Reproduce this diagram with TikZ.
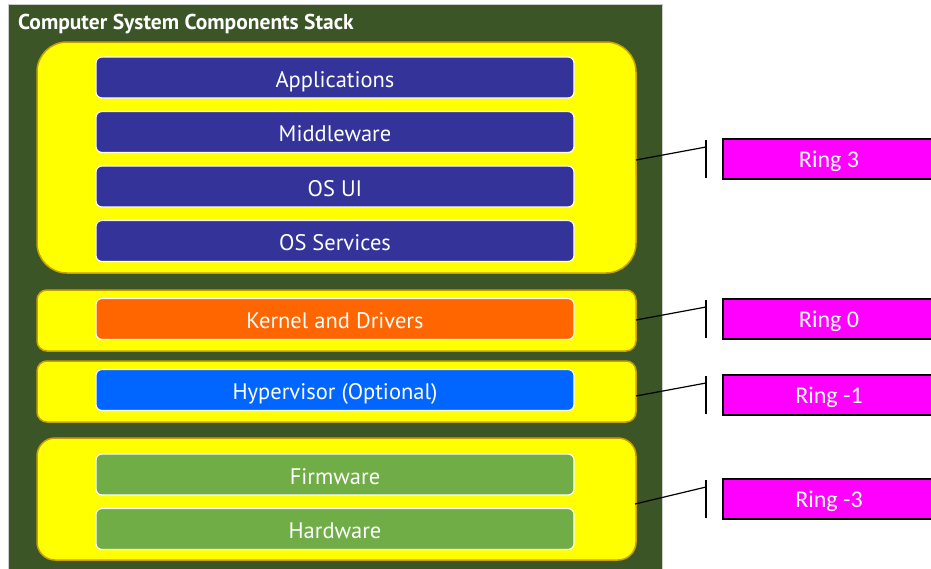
\documentclass[tikz,border=0pt]{standalone}
\usepackage{fontspec}
\newfontfamily\boxfont{PT Sans}
\newfontfamily\ringfont{Carlito}
\definecolor{stackbg}{HTML}{3B5526}
\definecolor{layerfill}{HTML}{FFFF00}
\definecolor{layeredge}{HTML}{C8A000}
\definecolor{navy}{HTML}{333399}
\definecolor{kernelc}{HTML}{FF6600}
\definecolor{hyperc}{HTML}{0066FF}
\definecolor{hwc}{HTML}{70AD47}
\definecolor{ringc}{HTML}{FF00FF}
\tikzset{
  layer/.style={draw=layeredge, line width=1.5pt, fill=layerfill,
    minimum width=599pt, inner sep=0pt},
  comp/.style={draw=white, line width=1.2pt, rounded corners=6pt,
    minimum width=478pt, minimum height=41pt, inner sep=0pt,
    text height=20pt, text depth=1pt,
    text=white, font=\boxfont\fontsize{22.5}{24}\selectfont},
  ringbox/.style={draw=black, line width=1.5pt, fill=ringc,
    minimum width=212pt, minimum height=40pt, inner sep=0pt,
    text height=17pt, text depth=1pt,
    text=white, font=\ringfont\fontsize{24}{26}\selectfont},
  link/.style={draw=black, line width=1.2pt}
}
\begin{document}
\begin{tikzpicture}[x=1pt,y=-1pt]
  \useasboundingbox (0,0) rectangle (931,568);
  \fill[white] (0,0) rectangle (931,568);
  \begin{scope}
    \clip (0,0) rectangle (931,568);
    % outer panel
    \draw[draw=black!20, fill=stackbg, line width=1pt] (8,4) rectangle (662,570);
    \node[anchor=base west, text=white, inner sep=0pt,
      font=\boxfont\bfseries\fontsize{21.5}{24}\selectfont] (title) at (18,29.5)
      {Computer System Components Stack};

    % privilege layers
    \node[layer, minimum height=231pt, rounded corners=30pt] (l3) at (336.5,157.5) {};
    \node[layer, minimum height=61pt, rounded corners=10pt] (l0) at (336.5,320.5) {};
    \node[layer, minimum height=61pt, rounded corners=10pt] (l1) at (336.5,391.5) {};
    \node[layer, minimum height=122pt, rounded corners=18pt] (lm3) at (336.5,499) {};

    % components
    \node[comp, fill=navy] (apps) at (335,77.5) {Applications};
    \node[comp, fill=navy] (mid) at (335,132) {Middleware};
    \node[comp, fill=navy] (osui) at (335,186.5) {OS UI};
    \node[comp, fill=navy] (ossvc) at (335,241) {OS Services};
    \node[comp, fill=kernelc] (kern) at (335,319) {Kernel and Drivers};
    \node[comp, fill=hyperc] (hyp) at (335,390) {Hypervisor (Optional)};
    \node[comp, fill=hwc] (fw) at (335,474.5) {Firmware};
    \node[comp, fill=hwc] (hw) at (335,529) {Hardware};

    % ring labels
    \node[ringbox] (r3) at (829,159) {Ring 3};
    \node[ringbox] (r0) at (829,319) {Ring 0};
    \node[ringbox] (r1) at (829,395) {Ring -1};
    \node[ringbox] (rm3) at (829,499) {Ring -3};

    % brackets and leader lines
    \coordinate (b3t) at (706,140);  \coordinate (b3b) at (706,178);
    \coordinate (b0t) at (706,300);  \coordinate (b0b) at (706,338);
    \coordinate (b1t) at (706,376);  \coordinate (b1b) at (706,414);
    \coordinate (bm3t) at (706,480); \coordinate (bm3b) at (706,518);
    \coordinate (j3) at (706,147);   \coordinate (s3) at (636,160);
    \coordinate (j0) at (706,307);   \coordinate (s0) at (636,320);
    \coordinate (j1) at (706,383);   \coordinate (s1) at (636,396);
    \coordinate (jm3) at (706,487);  \coordinate (sm3) at (635,504);
    \draw[link] (b3t) -- (b3b);   \draw[link] (s3) -- (j3);
    \draw[link] (b0t) -- (b0b);   \draw[link] (s0) -- (j0);
    \draw[link] (b1t) -- (b1b);   \draw[link] (s1) -- (j1);
    \draw[link] (bm3t) -- (bm3b); \draw[link] (sm3) -- (jm3);
  \end{scope}
\end{tikzpicture}
\end{document}
